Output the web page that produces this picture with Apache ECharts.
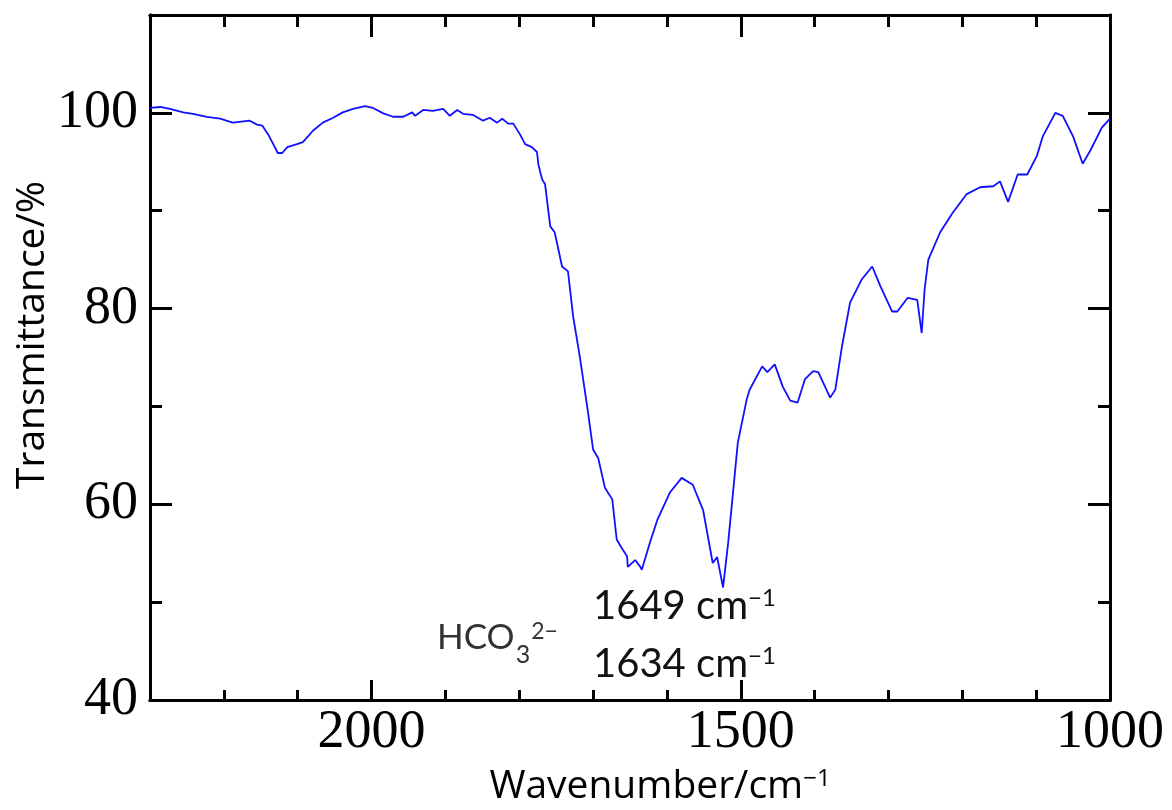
<!DOCTYPE html>
<html><head><meta charset="utf-8">
<script src="https://cdn.jsdelivr.net/npm/echarts@6/dist/echarts.min.js"></script>
<style>html,body{margin:0;padding:0;background:#fff}#c{width:1172px;height:810px}</style>
</head><body><div id="c"></div>
<script>
const wavenumber = [2300, 2286, 2273, 2255, 2242, 2223, 2205, 2188, 2165, 2155, 2148, 2140, 2131, 2127, 2121, 2114, 2101, 2093, 2079, 2066, 2052, 2039, 2025, 2009, 1998, 1984, 1971, 1957, 1945, 1941, 1930, 1917, 1903, 1894, 1884, 1876, 1863, 1849, 1840, 1830, 1823, 1815, 1808, 1799, 1792, 1783, 1776, 1774, 1769, 1765, 1758, 1752, 1742, 1734, 1727, 1718, 1708, 1700, 1693, 1684, 1674, 1668, 1661, 1654, 1653, 1643, 1636, 1634, 1623, 1613, 1596, 1580, 1565, 1551, 1538, 1532, 1524, 1517, 1504, 1492, 1488, 1471, 1464, 1454, 1443, 1433, 1423, 1413, 1402, 1395, 1379, 1372, 1363, 1352, 1336, 1322, 1311, 1295, 1288, 1274, 1261, 1255, 1251, 1246, 1230, 1213, 1194, 1176, 1158, 1149, 1138, 1125, 1112, 1099, 1091, 1074, 1064, 1050, 1037, 1027, 1011, 1000];
const transmittance = [100.5, 100.6, 100.4, 100.05, 99.9, 99.6, 99.4, 99.0, 99.2, 98.8, 98.7, 97.8, 96.5, 95.9, 95.9, 96.5, 96.8, 97.0, 98.2, 99.0, 99.5, 100.05, 100.4, 100.7, 100.5, 99.95, 99.6, 99.6, 100.05, 99.7, 100.3, 100.2, 100.4, 99.7, 100.3, 99.9, 99.8, 99.2, 99.5, 99.0, 99.4, 98.9, 98.9, 97.8, 96.8, 96.5, 96.0, 94.7, 93.2, 92.7, 88.4, 87.8, 84.3, 83.8, 79.2, 75.1, 70.0, 65.6, 64.7, 61.7, 60.5, 56.4, 55.5, 54.7, 53.6, 54.3, 53.6, 53.3, 56.1, 58.4, 61.2, 62.7, 62.0, 59.4, 54.0, 54.6, 51.5, 56.1, 66.3, 70.7, 71.7, 74.1, 73.5, 74.3, 72.0, 70.6, 70.4, 72.8, 73.6, 73.5, 70.9, 71.7, 76.1, 80.6, 83.0, 84.3, 82.3, 79.7, 79.7, 81.1, 80.9, 77.5, 82.0, 85.0, 87.8, 89.8, 91.7, 92.4, 92.5, 93.0, 90.9, 93.7, 93.7, 95.6, 97.6, 100.0, 99.7, 97.6, 94.8, 96.1, 98.5, 99.4];
const xTickLabels = [2000, 1500, 1000];
const yTickLabels = [40, 60, 80, 100];
const xRange = [1000, 2300];
const yRange = [40, 110];

const chart = echarts.init(document.getElementById('c'));
const tickFont = {fontFamily: 'Liberation Serif', fontSize: 54, color: '#000'};
const line = {show: true, lineStyle: {color: '#000', width: 3}};

function xAx(pos, interval, len, labels) {
  return {
    type: 'value', position: pos, inverse: true, min: xRange[0], max: xRange[1], interval: interval,
    axisLine: line, splitLine: {show: false},
    axisTick: {show: true, inside: true, length: len, lineStyle: {color: '#000', width: 3}},
    axisLabel: labels ? Object.assign({show: true, margin: 6, formatter: v => xTickLabels.includes(v) ? String(v) : ''}, tickFont) : {show: false}
  };
}
function yAx(pos, interval, len, labels) {
  return {
    type: 'value', position: pos, min: yRange[0], max: yRange[1], interval: interval,
    axisLine: line, splitLine: {show: false},
    axisTick: {show: true, inside: true, length: len, lineStyle: {color: '#000', width: 3}},
    axisLabel: labels ? Object.assign({show: true, margin: 12, formatter: v => yTickLabels.includes(v) ? String(v) : ''}, tickFont) : {show: false}
  };
}

// measure text widths for the chemical formula layout
const mctx = document.createElement('canvas').getContext('2d');
mctx.font = '35px Lato';
const hcoW = mctx.measureText('HCO').width;
mctx.font = '25px Lato';
const subW = mctx.measureText('3').width;
const hcoX = 437;

chart.setOption({
  animation: false,
  backgroundColor: '#fff',
  grid: {left: 150, top: 15, width: 960, height: 685, containLabel: false},
  xAxis: [xAx('bottom', 100, 10, false), xAx('bottom', 500, 20, true), xAx('top', 100, 12, false), xAx('top', 500, 22, false)],
  yAxis: [yAx('left', 10, 12, false), yAx('left', 20, 22, true), yAx('right', 10, 12, false), yAx('right', 20, 22, false)],
  series: [{
    type: 'line', xAxisIndex: 0, yAxisIndex: 0,
    data: wavenumber.map((w, i) => [w, transmittance[i]]),
    showSymbol: false, lineStyle: {color: '#1010ff', width: 1.8}
  }],
  graphic: [
    {type: 'text', x: 33, y: 335, rotation: Math.PI / 2,
     style: {text: 'Transmittance/%', font: '39px "Open Sans"', fill: '#000', align: 'center', verticalAlign: 'middle'}},
    {type: 'text', x: 660, y: 787,
     style: {text: 'Wavenumber/cm{sup|−1}', font: '39px "Open Sans"', fill: '#000', align: 'center', verticalAlign: 'middle',
       rich: {sup: {fontFamily: 'Open Sans', fontSize: 24, verticalAlign: 'top', lineHeight: 24}}}},
    {type: 'text', x: hcoX, y: 638,
     style: {text: 'HCO', font: '35px Lato', fill: '#333', align: 'left', verticalAlign: 'middle'}},
    {type: 'text', x: hcoX + hcoW + 1, y: 655,
     style: {text: '3', font: '25px Lato', fill: '#333', align: 'left', verticalAlign: 'middle'}},
    {type: 'text', x: hcoX + hcoW + subW + 2, y: 632,
     style: {text: '2−', font: '23px Lato', fill: '#333', align: 'left', verticalAlign: 'middle'}},
    {type: 'text', x: 593, y: 606,
     style: {text: '1649 cm{sup|−1}', font: '40px Lato', fill: '#111', align: 'left', verticalAlign: 'middle',
       rich: {sup: {fontFamily: 'Lato', fontSize: 24, verticalAlign: 'top', lineHeight: 24, fill: '#111'}}}},
    {type: 'text', x: 593, y: 664,
     style: {text: '1634 cm{sup|−1}', font: '40px Lato', fill: '#111', align: 'left', verticalAlign: 'middle',
       rich: {sup: {fontFamily: 'Lato', fontSize: 24, verticalAlign: 'top', lineHeight: 24, fill: '#111'}}}}
  ]
});
</script></body></html>
